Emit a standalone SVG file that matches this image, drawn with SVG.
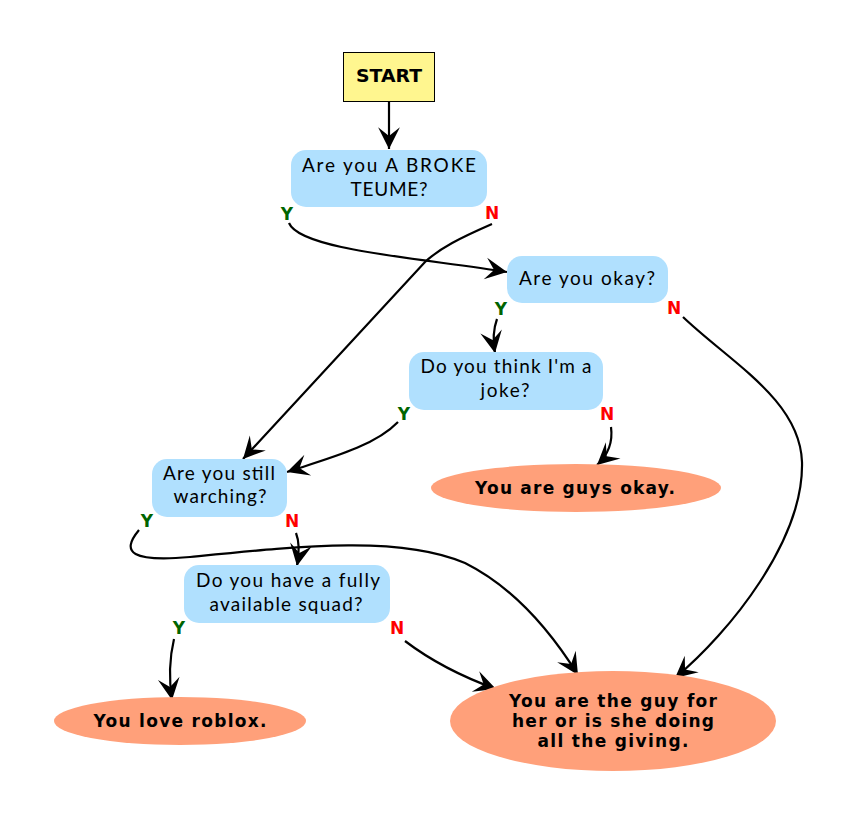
<svg xmlns="http://www.w3.org/2000/svg" width="857" height="825" viewBox="0 0 857 825">
<style>
.q{fill:#b0e0fe;stroke:none}
.t{fill:#ffa07a;stroke:none}
.qt{font-family:Lato,"Open Sans",sans-serif;font-size:19px;fill:#000;text-anchor:middle}
.tt{font-family:"DejaVu Sans",sans-serif;font-weight:bold;font-size:17px;fill:#000;text-anchor:middle}
.y{font-family:"DejaVu Sans",sans-serif;font-weight:bold;font-size:17px;fill:#006400;text-anchor:middle}
.n{font-family:"DejaVu Sans",sans-serif;font-weight:bold;font-size:17px;fill:#ff0000;text-anchor:middle}
.e{fill:none;stroke:#000;stroke-width:2.2}
</style>
<defs>
<marker id="vee" markerUnits="userSpaceOnUse" markerWidth="24" markerHeight="24" viewBox="-21 -11 22 22" refX="0" refY="0" orient="auto">
<path d="M-20,-10 L0,0 L-20,10 L-12,0 Z" fill="#000"/>
</marker>
</defs>
<rect width="857" height="825" fill="#fff"/>
<g id="connectors">
<path class="e" marker-end="url(#vee)" d="M389,101 L389,149"/>
<path class="e" marker-end="url(#vee)" d="M289,223 C300,250 420,258 507,272"/>
<path class="e" marker-end="url(#vee)" d="M492,224 C460,238 440,248 425,262 L243,459"/>
<path class="e" marker-end="url(#vee)" d="M497,319 C493,330 493,342 495,353"/>
<path class="e" marker-end="url(#vee)" d="M683,317 C730,362 800,400 802,462 C804,540 730,632 675,678"/>
<path class="e" marker-end="url(#vee)" d="M398,422 C375,446 330,458 287,472"/>
<path class="e" marker-end="url(#vee)" d="M611,427 C613,442 608,455 597,465"/>
<path class="e" marker-end="url(#vee)" d="M139,530 C120,553 132,562 190,557 C300,546 400,535 465,563 C515,588 553,635 578,675"/>
<path class="e" marker-end="url(#vee)" d="M296,533 C300,543 299,555 297,566"/>
<path class="e" marker-end="url(#vee)" d="M174,639 C169,660 169,680 172,700"/>
<path class="e" marker-end="url(#vee)" d="M405,641 C430,660 460,676 496,689"/>
</g>
<g id="start">
<rect x="343.5" y="52.5" width="91" height="49" fill="#fff68f" stroke="#000" stroke-width="1"/>
<text class="tt" x="389" y="82" textLength="66" lengthAdjust="spacingAndGlyphs">START</text>
</g>
<g id="q1">
<rect class="q" x="291" y="150" width="196" height="57" rx="15"/>
<text class="qt" x="389" y="172" textLength="174">Are you A BROKE</text>
<text class="qt" x="389" y="196" textLength="77">TEUME?</text>
<text class="y" x="287" y="220">Y</text>
<text class="n" x="492" y="219">N</text>
</g>
<g id="q2">
<rect class="q" x="507" y="256" width="161" height="47" rx="15"/>
<text class="qt" x="587" y="285" textLength="136">Are you okay?</text>
<text class="y" x="501" y="315">Y</text>
<text class="n" x="674" y="314">N</text>
</g>
<g id="q3">
<rect class="q" x="409" y="352" width="194" height="58" rx="15"/>
<text class="qt" x="506" y="373" textLength="171">Do you think I'm a</text>
<text class="qt" x="505" y="397" textLength="49">joke?</text>
<text class="y" x="404" y="420">Y</text>
<text class="n" x="607" y="420">N</text>
</g>
<g id="t1">
<ellipse class="t" cx="576" cy="488" rx="145" ry="24"/>
<text class="tt" x="575" y="494" textLength="200">You are guys okay.</text>
</g>
<g id="q4">
<rect class="q" x="152" y="459" width="135" height="58" rx="15"/>
<text class="qt" x="219" y="480" textLength="112">Are you still</text>
<text class="qt" x="220" y="503" textLength="93">warching?</text>
<text class="y" x="147" y="527">Y</text>
<text class="n" x="292" y="527">N</text>
</g>
<g id="q5">
<rect class="q" x="184" y="565" width="206" height="58" rx="15"/>
<text class="qt" x="288" y="587" textLength="184">Do you have a fully</text>
<text class="qt" x="286" y="611" textLength="153">available squad?</text>
<text class="y" x="179" y="634">Y</text>
<text class="n" x="397" y="634">N</text>
</g>
<g id="t2">
<ellipse class="t" cx="180" cy="721" rx="126" ry="24"/>
<text class="tt" x="180" y="727" textLength="173">You love roblox.</text>
</g>
<g id="t3">
<ellipse class="t" cx="613" cy="721" rx="163" ry="50"/>
<text class="tt" x="613" y="707" textLength="208">You are the guy for</text>
<text class="tt" x="613" y="727" textLength="202">her or is she doing</text>
<text class="tt" x="613" y="747" textLength="151">all the giving.</text>
</g>
</svg>
